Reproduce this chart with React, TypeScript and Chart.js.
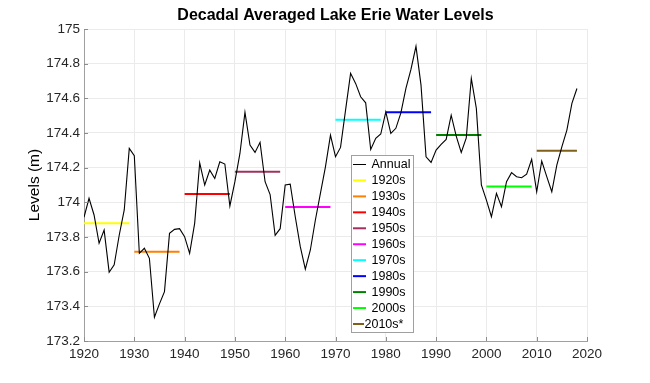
import React, { useEffect, useRef } from "react";
import { Chart, registerables } from "chart.js";

Chart.register(...registerables);

const TITLE = "Decadal Averaged Lake Erie Water Levels";
const Y_TITLE = "Levels (m)";

const years: number[] = [
  1920, 1921, 1922, 1923, 1924, 1925, 1926, 1927, 1928, 1929,
  1930, 1931, 1932, 1933, 1934, 1935, 1936, 1937, 1938, 1939,
  1940, 1941, 1942, 1943, 1944, 1945, 1946, 1947, 1948, 1949,
  1950, 1951, 1952, 1953, 1954, 1955, 1956, 1957, 1958, 1959,
  1960, 1961, 1962, 1963, 1964, 1965, 1966, 1967, 1968, 1969,
  1970, 1971, 1972, 1973, 1974, 1975, 1976, 1977, 1978, 1979,
  1980, 1981, 1982, 1983, 1984, 1985, 1986, 1987, 1988, 1989,
  1990, 1991, 1992, 1993, 1994, 1995, 1996, 1997, 1998, 1999,
  2000, 2001, 2002, 2003, 2004, 2005, 2006, 2007, 2008, 2009,
  2010, 2011, 2012, 2013, 2014, 2015, 2016, 2017, 2018,
];

const annualLevels: number[] = [
  173.914, 174.023, 173.927, 173.764, 173.84, 173.597, 173.64, 173.81, 173.956, 174.311,
  174.269, 173.706, 173.735, 173.677, 173.337, 173.414, 173.485, 173.821, 173.844, 173.848,
  173.802, 173.706, 173.879, 174.228, 174.1, 174.186, 174.138, 174.234, 174.221, 173.979,
  174.119, 174.282, 174.519, 174.33, 174.288, 174.346, 174.119, 174.045, 173.81, 173.848,
  174.1, 174.105, 173.917, 173.744, 173.614, 173.725, 173.898, 174.052, 174.205, 174.388,
  174.263, 174.317, 174.532, 174.744, 174.686, 174.609, 174.574, 174.305, 174.369, 174.394,
  174.522, 174.398, 174.427, 174.516, 174.657, 174.767, 174.9, 174.676, 174.263, 174.23,
  174.301, 174.334, 174.363, 174.503, 174.382, 174.288, 174.372, 174.715, 174.542, 174.1,
  174.013, 173.917, 174.052, 173.975, 174.119, 174.171, 174.148, 174.142, 174.163, 174.248,
  174.061, 174.238, 174.148, 174.061, 174.215, 174.32, 174.417, 174.571, 174.657,
];

const decadeLabels: string[] = ["1920s", "1930s", "1940s", "1950s", "1960s", "1970s", "1980s", "1990s", "2000s", "2010s*"];
const decadeStart: number[] = [1920, 1930, 1940, 1950, 1960, 1970, 1980, 1990, 2000, 2010];
const decadeEnd: number[] = [1929, 1939, 1949, 1959, 1969, 1979, 1989, 1999, 2009, 2018];
const decadeAverages: number[] = [173.88, 173.715, 174.048, 174.176, 173.973, 174.476, 174.52, 174.388, 174.092, 174.297];
const decadeColors: string[] = [
  "#ffff00", "#ff8000", "#ff0000", "#a0305f", "#ff00ff",
  "#00ffff", "#0000ff", "#008000", "#00ff00", "#7f5f1a",
];

const xTicks: number[] = [1920, 1930, 1940, 1950, 1960, 1970, 1980, 1990, 2000, 2010, 2020];
const yTicks: number[] = [173.2, 173.4, 173.6, 173.8, 174, 174.2, 174.4, 174.6, 174.8, 175];

const FONT = '"Liberation Sans", Arial, Helvetica, sans-serif';

const decorPlugin = {
  id: "decor",
  afterDraw(chart: any) {
    const { ctx, chartArea, scales } = chart;
    const xs = scales.x;
    const ys = scales.y;
    ctx.save();
    // inward ticks
    ctx.strokeStyle = "#8c8c8c";
    ctx.lineWidth = 1;
    ctx.beginPath();
    for (const t of yTicks) {
      const py = Math.round(ys.getPixelForValue(t)) + 0.5;
      ctx.moveTo(chartArea.left, py);
      ctx.lineTo(chartArea.left + 4, py);
    }
    for (const t of xTicks) {
      const px = Math.round(xs.getPixelForValue(t)) + 0.5;
      ctx.moveTo(px, chartArea.bottom);
      ctx.lineTo(px, chartArea.bottom - 4);
    }
    ctx.stroke();

    // title
    ctx.fillStyle = "#000";
    ctx.font = `bold 16px ${FONT}`;
    ctx.textAlign = "center";
    ctx.textBaseline = "middle";
    ctx.fillText(TITLE, (chartArea.left + chartArea.right) / 2, 16);

    // legend
    const bx = 351.5, by = 155.5, bw = 62, bh = 177;
    ctx.fillStyle = "#fff";
    ctx.fillRect(bx, by, bw, bh);
    ctx.strokeStyle = "#a0a0a0";
    ctx.strokeRect(bx, by, bw, bh);
    const items = chart.data.datasets.map((d: any) => ({ label: d.label, color: d.borderColor }));
    ctx.font = `12.5px ${FONT}`;
    ctx.textAlign = "left";
    ctx.textBaseline = "middle";
    const last = items.length - 1;
    items.forEach((it: any, i: number) => {
      const cy = 164.5 + i * 15.95;
      ctx.strokeStyle = it.color;
      ctx.lineWidth = i === 0 ? 1 : 2;
      ctx.beginPath();
      ctx.moveTo(353, cy);
      ctx.lineTo(i === last ? 364 : 366, cy);
      ctx.stroke();
      ctx.fillStyle = "#000";
      ctx.fillText(it.label, i === last ? 364.5 : 371.5, cy + 0.5);
    });
    ctx.restore();
  },
};

export default function App() {
  const ref = useRef<HTMLCanvasElement | null>(null);

  useEffect(() => {
    if (!ref.current) return;
    const datasets: any[] = [
      {
        label: "Annual",
        data: years.map((y, i) => ({ x: y, y: annualLevels[i] })),
        borderColor: "#000000",
        borderWidth: 1.1,
        pointRadius: 0,
        tension: 0,
      },
    ];
    decadeLabels.forEach((lab, i) => {
      datasets.push({
        label: lab,
        data: [
          { x: decadeStart[i], y: decadeAverages[i] },
          { x: decadeEnd[i], y: decadeAverages[i] },
        ],
        borderColor: decadeColors[i],
        borderWidth: 2,
        pointRadius: 0,
      });
    });

    const chart = new Chart(ref.current, {
      type: "line",
      data: { datasets },
      plugins: [decorPlugin],
      options: {
        responsive: false,
        animation: false,
        events: [],
        layout: { padding: { top: 29, right: 63, bottom: 0, left: 0 } },
        plugins: {
          legend: { display: false },
          title: { display: false },
          tooltip: { enabled: false },
        },
        scales: {
          x: {
            type: "linear",
            min: 1920,
            max: 2020,
            afterBuildTicks: (s: any) => {
              s.ticks = xTicks.map((v) => ({ value: v }));
            },
            afterFit: (s: any) => {
              s.height = 42;
            },
            grid: { color: "#ebebeb", drawTicks: false },
            border: { display: true, color: "#a0a0a0" },
            ticks: {
              color: "#262626",
              font: { family: FONT, size: 13.5 },
              padding: 5,
              maxRotation: 0,
              callback: (v: any) => String(v),
            },
          },
          y: {
            type: "linear",
            min: 173.2,
            max: 175,
            afterBuildTicks: (s: any) => {
              s.ticks = yTicks.map((v) => ({ value: v }));
            },
            afterFit: (s: any) => {
              s.width = 84;
            },
            grid: { color: "#ebebeb", drawTicks: false },
            border: { display: true, color: "#a0a0a0" },
            title: {
              display: true,
              text: Y_TITLE,
              color: "#000",
              font: { family: FONT, size: 15.5 },
              padding: { top: 25, bottom: 0 },
            },
            ticks: {
              color: "#262626",
              font: { family: FONT, size: 13.5 },
              padding: 4,
              callback: (v: any) => String(Number(Number(v).toFixed(1))),
            },
          },
        },
      },
    });
    return () => chart.destroy();
  }, []);

  return (
    <div style={{ position: "fixed", left: 0, top: 0, width: 650, height: 383, background: "#fff" }}>
      <canvas ref={ref} width={650} height={383} />
    </div>
  );
}
